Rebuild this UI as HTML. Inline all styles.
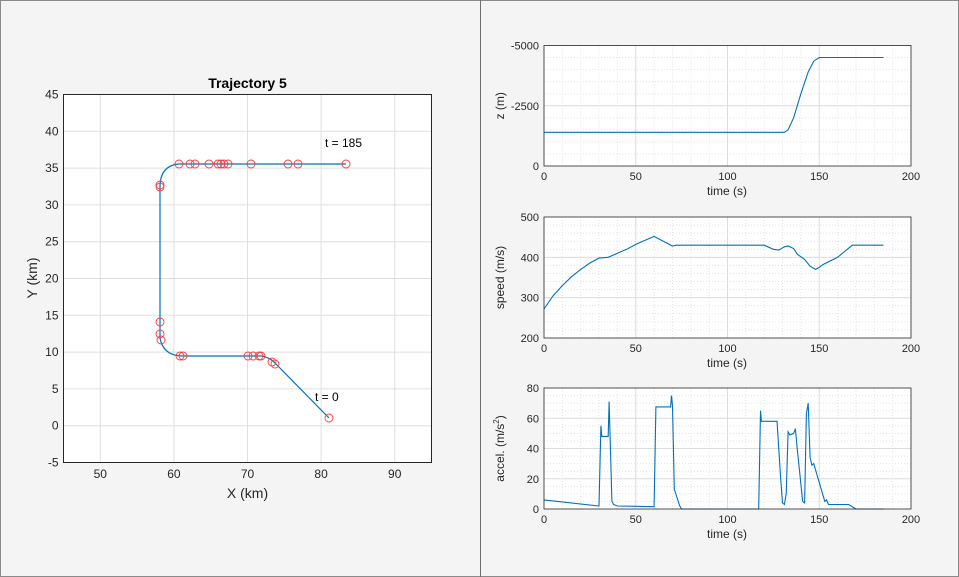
<!DOCTYPE html>
<html><head><meta charset="utf-8"><style>
html,body{margin:0;padding:0;background:#f0f0f0;}
svg{display:block;font-family:"Liberation Sans",Arial,sans-serif;}
</style></head><body>
<svg id="s" width="959" height="577" xmlns="http://www.w3.org/2000/svg">
<rect x="0" y="0" width="959" height="577" fill="#f4f4f4"/>
<rect x="0.5" y="0.5" width="958" height="576" fill="none" stroke="#8a8a8a"/>
<line x1="480.5" y1="0" x2="480.5" y2="577" stroke="#6e6e6e"/>
<g id="g"></g>
</svg>
<script>
var g=document.getElementById('g'),h='';
function L(x1,y1,x2,y2,st){h+='<line x1="'+x1+'" y1="'+y1+'" x2="'+x2+'" y2="'+y2+'" '+st+'/>';}
function T(x,y,t,st){h+='<text x="'+x+'" y="'+y+'" '+st+'>'+t+'</text>';}
// LEFT
var lx0=63.5,lx1=431.5,ly0=94.5,ly1=462.5;
function X(v){return lx0+(v-45)*(lx1-lx0)/50;}function Y(v){return ly1-(v+5)*(ly1-ly0)/50;}
h+='<rect x="'+lx0+'" y="'+ly0+'" width="'+(lx1-lx0)+'" height="'+(ly1-ly0)+'" fill="#fff"/>';
for(var v=50;v<=90;v+=10){L(X(v),ly0,X(v),ly1,'stroke="#dfdfdf"');T(X(v),478,v,'font-size="12" fill="#262626" text-anchor="middle"');}
for(var v=-5;v<=45;v+=5){if(v>-5&&v<45)L(lx0,Y(v),lx1,Y(v),'stroke="#dfdfdf"');T(lx0-5,Y(v)+4,v,'font-size="12" fill="#262626" text-anchor="end"');}
h+='<rect x="'+lx0+'" y="'+ly0+'" width="'+(lx1-lx0)+'" height="'+(ly1-ly0)+'" fill="none" stroke="#262626" stroke-width="1"/>';
T(247.5,88,'Trajectory 5','font-size="14" font-weight="bold" fill="#000" text-anchor="middle"');
T(247.5,498,'X (km)','font-size="14" fill="#262626" text-anchor="middle"');
h+='<text transform="translate(37,278) rotate(-90)" font-size="14" fill="#262626" text-anchor="middle">Y (km)</text>';
h+='<path d="M329,418 L276,364 Q271,358 262,356 L181,356 Q163,355 160,338 L160,185 Q161,166 178,164 L346,164" fill="none" stroke="#0072bd" stroke-width="1.2"/>';
var cs=[[179,164],[190,164],[195,164],[209,164],[218,164],[221,164],[224,164],[228,164],[251,164],[288,164],[298,164],[346,164],[160,185],[160,187],[160,322],[160,334],[161,340],[180,356],[183,356],[248,356],[253,356],[259,356],[261,356],[272,362],[275,364],[329,418]];
cs.forEach(function(c){h+='<circle cx="'+c[0]+'" cy="'+c[1]+'" r="4" fill="none" stroke="#ff3b3b" stroke-width="0.9"/>';});
T(325,147,'t = 185','font-size="12" fill="#000"');T(315,401,'t = 0','font-size="12" fill="#000"');
// RIGHT
var rx0=544,rx1=911;function tx(t){return rx0+t*(rx1-rx0)/200;}
function panel(top,bot,vmin,vmax,maj,mn,labels,ylab,data){
 function py(v){return bot-(v-vmin)*(bot-top)/(vmax-vmin);}
 h+='<rect x="'+rx0+'" y="'+top+'" width="'+(rx1-rx0)+'" height="'+(bot-top)+'" fill="#fff"/>';
 for(var t=10;t<200;t+=10)if(t%50)L(tx(t),top,tx(t),bot,'stroke="#e3e3e3" stroke-dasharray="1,2"');
 for(var v=vmin+mn;v<vmax;v+=mn)if((v-vmin)%maj)L(rx0,py(v),rx1,py(v),'stroke="#e3e3e3" stroke-dasharray="1,2"');
 for(var t=50;t<200;t+=50)L(tx(t),top,tx(t),bot,'stroke="#dcdcdc"');
 for(var v=vmin+maj;v<vmax;v+=maj)L(rx0,py(v),rx1,py(v),'stroke="#dcdcdc"');
 for(var t=0;t<=200;t+=50)T(tx(t),bot+14,t,'font-size="11" fill="#262626" text-anchor="middle"');
 labels.forEach(function(l){T(rx0-5,py(l[0])+4,l[1],'font-size="11" fill="#262626" text-anchor="end"');});
 T(727,bot+29,'time (s)','font-size="12" fill="#262626" text-anchor="middle"');
 h+='<text transform="translate(504,'+((top+bot)/2)+') rotate(-90)" font-size="12" fill="#262626" text-anchor="middle">'+ylab+'</text>';
 var d='';data.forEach(function(p,i){d+=(i?'L':'M')+tx(p[0]).toFixed(1)+','+py(p[1]).toFixed(1);});
 h+='<path d="'+d+'" fill="none" stroke="#0072bd" stroke-width="1.1"/>';
 h+='<rect x="'+rx0+'" y="'+top+'" width="'+(rx1-rx0)+'" height="'+(bot-top)+'" fill="none" stroke="#262626" stroke-width="0.8"/>';
}
panel(45.5,166,0,5000,2500,500,[[5000,'-5000'],[2500,'-2500'],[0,'0']],'z (m)',
 [[0,1400],[131,1400],[133,1500],[136,2000],[140,3000],[144,3900],[147,4350],[150,4500],[185,4500]]);
panel(217,338,200,500,100,20,[[200,'200'],[300,'300'],[400,'400'],[500,'500']],'speed (m/s)',
 [[0,272],[5,305],[10,330],[15,352],[20,370],[25,386],[30,398],[35,400],[40,410],[45,420],[50,432],[55,442],[60,452],[65,440],[70,428],[72,430],[120,430],[125,420],[128,418],[131,426],[133,428],[136,422],[138,408],[142,395],[145,378],[148,370],[150,375],[152,382],[160,400],[168,430],[185,430]]);
panel(388,509,0,80,20,5,[[0,'0'],[20,'20'],[40,'40'],[60,'60'],[80,'80']],'accel. (m/s<tspan font-size="8" dy="-5">2</tspan><tspan dy="5">)</tspan>',
 [[0,6],[30,2],[31,55],[31.5,48],[35,48],[35.5,71],[36,48],[37,5],[38,3],[40,2],[60,1.5],[61,67.5],[69,67.5],[69.5,75],[70,68],[71,13],[74,2],[75,0],[117,0],[118,65],[118.5,58],[127,58],[129,20],[130,4],[131,3],[132,10],[133,51],[134,49],[136,50],[137,53],[138,40],[141,5],[142,4],[143,63],[144,70],[145,34],[146,29],[147,30],[153,5],[154,6],[155,3],[166,3],[170,0],[185,0]]);
g.innerHTML=h;
</script>
</body></html>
